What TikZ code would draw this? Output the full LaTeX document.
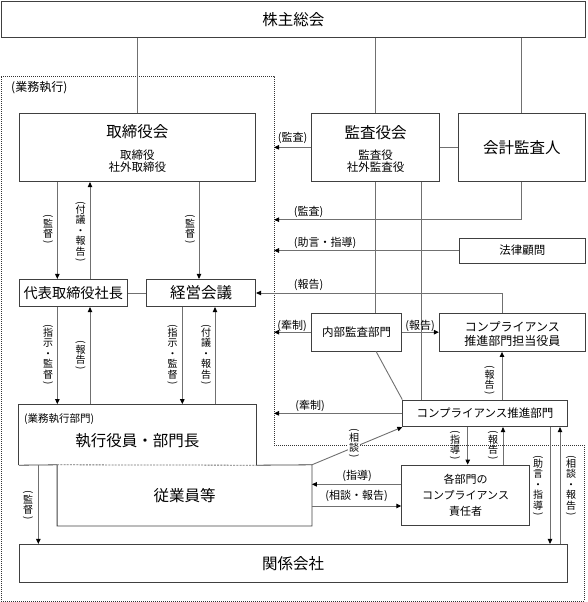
\documentclass[tikz,border=0pt]{standalone}
\usepackage{fontspec}
\setmainfont{Noto Sans CJK JP}
\usetikzlibrary{arrows.meta,calc}
\definecolor{bord}{HTML}{404040}
\definecolor{connc}{HTML}{707070}
\newcommand\fs[2]{\fontsize{#1}{#2}\selectfont}
\newcommand\vlp{\rotatebox[origin=c]{-90}{(}}
\newcommand\vlq{\rotatebox[origin=c]{-90}{)}}
\newcommand\vtxt[1]{\vlp\\[-3pt]#1\\[-3pt]\vlq}
\tikzset{
  box/.style={draw=bord, line width=0.8pt, inner sep=0pt},
  conn/.style={draw=connc, line width=0.9pt},
  arr/.style={conn, -{Triangle[length=5pt,width=4.5pt,color=black,fill=black]}},
  lab/.style={font=\fs{11}{12}, inner sep=1pt},
  vlab/.style={font=\fs{10}{10.5}, align=center, inner sep=1pt},
  region/.style={draw=black!80, line width=0.6pt, dash pattern=on 1pt off 1pt},
}
\begin{document}
\begin{tikzpicture}[x=1pt,y=-1pt]
\useasboundingbox (0,0) rectangle (587,602);
% region
\draw[region] (1,76) -- (274,76) -- (274,445) -- (584,445) -- (584,601) -- (1,601) -- cycle;
\coordinate (bx) at (274,0);
\node[font=\fs{12}{14}, anchor=west, inner sep=0pt] (gyomu) at (11,88) {(業務執行)};
% boxes
\node[box, minimum width=584.5pt, minimum height=36.7pt, font=\fs{15.5}{18}] (sh) at (293.25,19.35) {株主総会};
\node[box, minimum width=236.7pt, minimum height=68.7pt] (bod) at (137.35,147.35) {};
\node[font=\fs{15.5}{18}, inner sep=0pt] (bodt) at (137.35,132) {取締役会};
\node[font=\fs{11.5}{12}, align=center, inner sep=0pt] (bods) at (137.35,161.5) {取締役\\社外取締役};
\node[box, minimum width=127.6pt, minimum height=68.7pt] (kan) at (375.5,147.35) {};
\node[font=\fs{15.5}{18}, inner sep=0pt] (kant) at (375.5,132.5) {監査役会};
\node[font=\fs{11.5}{12}, align=center, inner sep=0pt] (kans) at (375.5,161.5) {監査役\\社外監査役};
\node[box, minimum width=127.2pt, minimum height=68.7pt, font=\fs{15.5}{18}] (acc) at (521.9,147.35) {会計監査人};
\node[box, minimum width=126.5pt, minimum height=25pt, font=\fs{11.5}{14}] (law) at (522.25,250.5) {法律顧問};
\node[box, minimum width=108.7pt, minimum height=27.4pt, font=\fs{14.2}{16}] (pres) at (73.35,293) {代表取締役社長};
\node[box, minimum width=109pt, minimum height=27.4pt, font=\fs{15.5}{18}] (mgmt) at (201.2,293) {経営会議};
\node[box, minimum width=90pt, minimum height=37.4pt, font=\fs{11.5}{14}] (ia) at (356.7,332.2) {内部監査部門};
\node[box, minimum width=146.2pt, minimum height=38.2pt] (cpo) at (512.4,332.4) {};
\node[font=\fs{12}{14.3}, align=center, inner sep=0pt] (cpot) at (512.4,334) {コンプライアンス\\推進部門担当役員};
\node[box, minimum width=164.6pt, minimum height=26.7pt, font=\fs{11.5}{14}] (cpd) at (485,413.35) {コンプライアンス推進部門};
\node[minimum width=236.7pt, minimum height=60.7pt, inner sep=0pt] (exec) at (137.35,434.65) {};
\node[font=\fs{10.5}{12}, anchor=west, inner sep=0pt] (execl) at (24,419.3) {(業務執行部門)};
\node[font=\fs{15.5}{18}, inner sep=0pt] (exect) at (137.35,440.5) {執行役員・部門長};
\node[minimum width=254.4pt, minimum height=60.7pt, inner sep=0pt, font=\fs{15.5}{18}] (emp) at (184.5,495.35) {従業員等};
\node[box, minimum width=127.6pt, minimum height=60.7pt, font=\fs{11}{15.8}, align=center] (resp) at (465.5,495.35) {各部門の\\コンプライアンス\\責任者};
\node[box, minimum width=548.3pt, minimum height=38.4pt, font=\fs{15.5}{18}] (aff) at (293.15,563.5) {関係会社};
% exec / emp outlines
\draw[draw=bord, line width=0.8pt] (exec.south west) -- (exec.north west) -- (exec.north east) -- (exec.south east);
\draw[draw=bord, line width=0.8pt] (exec.south west) -- (emp.north west);
\draw[draw=bord, line width=0.8pt] (emp.north west) -- (emp.south west) -- (emp.south east) -- (emp.north east) -- (exec.south east);
\draw[draw=connc, line width=0.8pt, dash pattern=on 2pt off 1.2pt] (emp.north west) -- (exec.south east);
% shareholders connections
\draw[conn] (bod.north |- sh.south) -- (bod.north);
\draw[conn] (kan.north |- sh.south) -- (kan.north);
\draw[conn] (acc.north |- sh.south) -- (acc.north);
\draw[conn] (kan.east) -- (acc.west);
% audit arrows to region
\draw[arr] (kan.west) -- (kan.west -| bx);
\node[lab] (l1) at (292.5,138) {(監査)};
\draw[arr] (acc.south) |- ([yshift=-37.6pt]acc.south -| bx);
\node[lab] (l2) at (308.5,212) {(監査)};
\draw[arr] (law.west) -- (law.west -| bx);
\node[lab] (l3) at (325,243) {(助言・指導)};
\draw[arr] ([xshift=-10.4pt]cpo.north) |- (mgmt.east);
\node[lab] (l4) at (308.5,285) {(報告)};
% audit board downward
\draw[conn] (kan.south) -- (kan.south |- ia.north);
\draw[conn] ([xshift=45.5pt]kan.south) -- ([xshift=45.5pt]kan.south |- cpd.north);
\draw[conn] ([xshift=19.3pt]ia.south) -- (cpd.north west);
\draw[arr] (ia.west) -- (ia.west -| bx);
\node[lab] (l5) at (292,325.5) {(牽制)};
\draw[arr] (ia.east) -- (ia.east -| cpo.west);
\node[lab] (l6) at (420,325.5) {(報告)};
\draw[arr] ([xshift=17pt]cpd.north) -- ([xshift=17pt]cpd.north |- cpo.south);
\node[vlab] (l7) at (489.5,381) {\vtxt{報\\告}};
\draw[arr] (cpd.west) -- (cpd.west -| bx);
\node[lab] (l8) at (310,405.5) {(牽制)};
\draw[arr] (emp.north east) -- (cpd.south west);
\node[vlab, fill=white] (l9) at (354,444) {\vtxt{相\\談}};
\draw[arr] ([xshift=-17.3pt]cpd.south) -- ([xshift=-17.3pt]cpd.south |- resp.north);
\node[vlab] (l10) at (455,446) {\vtxt{指\\導}};
\draw[arr] ([xshift=37.5pt]resp.north) -- ([xshift=37.5pt]resp.north |- cpd.south);
\node[vlab] (l11) at (493,446) {\vtxt{報\\告}};
\draw[arr] ([yshift=11pt]resp.west) -- ([yshift=11pt]resp.west -| emp.east);
\node[lab] (l12) at (357,475.5) {(指導)};
\draw[arr] ([yshift=-10.65pt]emp.east) -- ([yshift=-10.65pt]emp.east -| resp.west);
\node[lab] (l13) at (356.5,496) {(相談・報告)};
\draw[arr] ([xshift=65pt]cpd.south) -- ([xshift=65pt]cpd.south |- aff.north);
\node[vlab] (l14) at (538,486) {\vtxt{助\\言\\・\\指\\導}};
\draw[arr] ([xshift=75pt]cpd.south |- aff.north) -- ([xshift=75pt]cpd.south);
\node[vlab] (l15) at (571,486) {\vtxt{相\\談\\・\\報\\告}};
% board to president / management
\draw[arr] ([xshift=-80pt]bod.south) -- ([xshift=-80pt]bod.south |- pres.north);
\node[vlab] (l16) at (48,230) {\vtxt{監\\督}};
\draw[arr] ([xshift=-47.35pt]bod.south |- pres.north) -- ([xshift=-47.35pt]bod.south);
\node[vlab] (l17) at (80.5,232) {\vtxt{付\\議\\・\\報\\告}};
\draw[arr] ([xshift=61.65pt]bod.south) -- ([xshift=61.65pt]bod.south |- mgmt.north);
\node[vlab] (l18) at (190,230) {\vtxt{監\\督}};
\draw[conn] (pres.east) -- (mgmt.west);
% president / management to exec
\draw[arr] ([xshift=-16pt]pres.south) -- ([xshift=-16pt]pres.south |- exec.north);
\node[vlab] (l19) at (48,355) {\vtxt{指\\示\\・\\監\\督}};
\draw[arr] ([xshift=16.65pt]pres.south |- exec.north) -- ([xshift=16.65pt]pres.south);
\node[vlab] (l20) at (80.5,356) {\vtxt{報\\告}};
\draw[arr] ([xshift=-18.9pt]mgmt.south) -- ([xshift=-18.9pt]mgmt.south |- exec.north);
\node[vlab] (l21) at (172.5,355) {\vtxt{指\\示\\・\\監\\督}};
\draw[arr] ([xshift=13.8pt]mgmt.south |- exec.north) -- ([xshift=13.8pt]mgmt.south);
\node[vlab] (l22) at (206,355) {\vtxt{付\\議\\・\\報\\告}};
% exec to affiliates
\draw[arr] ([xshift=-99pt]exec.south) -- ([xshift=-99pt]exec.south |- aff.north);
\node[vlab] (l23) at (28,506) {\vtxt{監\\督}};
\end{tikzpicture}
\end{document}
